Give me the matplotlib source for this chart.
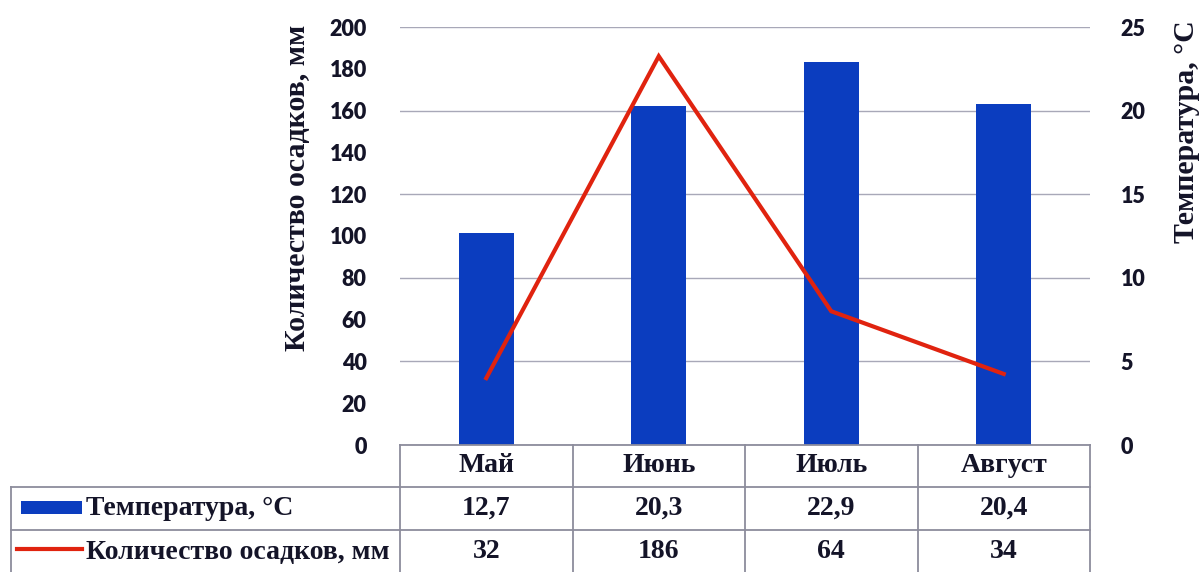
import matplotlib
matplotlib.use("Agg")
import matplotlib.pyplot as plt
import matplotlib.transforms as mtransforms
from matplotlib.lines import Line2D
from matplotlib.patches import Rectangle

# Monthly climate data
months = ["Май", "Июнь", "Июль", "Август"]
temperature = [12.7, 20.3, 22.9, 20.4]        # °C, bars (right axis)
precipitation = [32, 186, 64, 34]             # mm, line (left axis)
temp_labels = ["12,7", "20,3", "22,9", "20,4"]
precip_labels = ["32", "186", "64", "34"]
temp_name = "Температура, °С"
precip_name = "Количество осадков, мм"

BAR_COLOR = "#0b3dbf"
LINE_COLOR = "#e0230f"
GRID_COLOR = "#a8a8b8"
TABLE_COLOR = "#8c8c9c"
TEXT_COLOR = "#141428"
SERIF = "Liberation Serif"
SANS = "Lato"

W, H = 1201, 572
fig = plt.figure(figsize=(W / 100, H / 100), dpi=100)


def fx(px):
    return px / W


def fy(py):
    return 1 - py / H


ax = fig.add_axes([fx(400), fy(445), fx(1090) - fx(400), fy(27) - fy(445)])
ax2 = ax.twinx()

x = list(range(len(months)))

# Temperature bars on the right axis, drawn beneath the precipitation line
ax2.bar(x, temperature, width=0.32, color=BAR_COLOR, zorder=2)
ax2.set_ylim(0, 25)
ax2.set_yticks(range(0, 26, 5))
ax2.yaxis.grid(True, color=GRID_COLOR, lw=1.0, zorder=0)
ax2.set_axisbelow(True)

ax.plot(x, precipitation, color=LINE_COLOR, lw=3.0, solid_joinstyle="miter", zorder=5)
ax.set_ylim(0, 200)
ax.set_yticks(range(0, 201, 20))
ax.set_xlim(-0.5, len(months) - 0.5)
ax.set_xticks([])
ax2.set_xticks([])

ax.set_zorder(ax2.get_zorder() + 1)
ax.patch.set_visible(False)

for a in (ax, ax2):
    for s in a.spines.values():
        s.set_visible(False)

ax.tick_params(axis="y", length=0, pad=24, labelsize=15.5, labelcolor=TEXT_COLOR)
ax2.tick_params(axis="y", length=0, pad=22, labelsize=15.5, labelcolor=TEXT_COLOR)
for lab in ax.get_yticklabels() + ax2.get_yticklabels():
    lab.set_fontfamily(SANS)
    lab.set_fontweight("heavy")

# Axis titles
fig.text(fx(297), fy(188), precip_name, rotation=90, ha="center", va="center",
         fontfamily=SERIF, fontweight="bold", fontsize=21.5, color=TEXT_COLOR)
fig.text(fx(1186), fy(132), temp_name, rotation=90, ha="center", va="center",
         fontfamily=SERIF, fontweight="bold", fontsize=21.5, color=TEXT_COLOR)

# Data table under the chart: columns follow the category positions
tr = mtransforms.blended_transform_factory(ax.transData, fig.transFigure)
y_top, y_r1, y_r2, y_bot = fy(445), fy(487), fy(530), fy(600)
x_left_px = 11
edges = [i - 0.5 for i in range(len(months) + 1)]

table_kw = dict(color=TABLE_COLOR, lw=1.3, clip_on=False)
fig.add_artist(Line2D([edges[0], edges[-1]], [y_top, y_top], transform=tr, **table_kw))
for yy in (y_r1, y_r2):
    fig.add_artist(Line2D([fx(x_left_px), fx(1090)], [yy, yy], transform=fig.transFigure, **table_kw))
for e in edges:
    fig.add_artist(Line2D([e, e], [y_top, y_bot], transform=tr, **table_kw))
fig.add_artist(Line2D([fx(x_left_px)] * 2, [y_r1, y_bot], transform=fig.transFigure, **table_kw))

cell_kw = dict(ha="center", va="center", fontfamily=SERIF, fontweight="bold",
               fontsize=20, color=TEXT_COLOR, transform=tr)
y_head = (y_top + y_r1) / 2
y_temp = (y_r1 + y_r2) / 2
y_prec = fy(552)
for i, m in enumerate(months):
    fig.text(i, y_head, m, **cell_kw)
    fig.text(i, y_temp, temp_labels[i], **cell_kw)
    fig.text(i, y_prec, precip_labels[i], **cell_kw)

# Row headers with legend keys
fig.add_artist(Rectangle((fx(21), fy(514)), fx(82) - fx(21), fy(501) - fy(514),
                         transform=fig.transFigure, color=BAR_COLOR, lw=0))
fig.add_artist(Line2D([fx(17), fx(82)], [fy(549), fy(549)], transform=fig.transFigure,
                      color=LINE_COLOR, lw=3.0))
row_kw = dict(ha="left", va="center", fontfamily=SERIF, fontweight="bold",
              fontsize=20, color=TEXT_COLOR)
fig.text(fx(86), y_temp, temp_name, **row_kw)
fig.text(fx(86), y_prec, precip_name, **row_kw)

fig.savefig("out.png", dpi=100, facecolor="white")
